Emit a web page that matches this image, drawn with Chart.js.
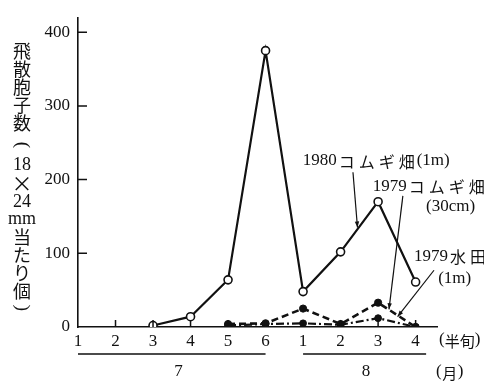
<!DOCTYPE html>
<html>
<head>
<meta charset="utf-8">
<script src="https://cdn.jsdelivr.net/npm/chart.js@4/dist/chart.umd.min.js"></script>
<style>
  html, body { margin: 0; padding: 0; background: #fff; }
  #wrap { width: 484px; height: 382px; position: relative; }
</style>
</head>
<body>
<div id="wrap"><canvas id="c" width="484" height="382"></canvas></div>
<script>
// ---- data ----
const halfMonthPositions = [1, 2, 3, 4, 5, 6, 7, 8, 9, 10];
const halfMonthLabels = ['1', '2', '3', '4', '5', '6', '1', '2', '3', '4'];
const yTickValues = [0, 100, 200, 300, 400];
const wheat1980_1m = [null, null, 2, 14, 64, 375, 48, 102, 170, 61];
const wheat1979_30cm = [null, null, null, null, 4, 5, 25, 4, 33, 0];
const paddy1979_1m = [null, null, null, null, 2, 4, 5, 3, 12, 0];
const seriesNames = ['1980コムギ畑(1m)', '1979コムギ畑(30cm)', '1979水田(1m)'];
const months = ['7', '8'];
const yAxisTitle = ['飛', '散', '胞', '子', '数', '(', '18', '×', '24', 'mm', '当', 'た', 'り', '個', ')'];

const toXY = arr => halfMonthPositions.map((x, i) => ({ x: x, y: arr[i] }));

const SERIF = "'Liberation Serif', 'DejaVu Serif', 'Noto Sans CJK JP', serif";
const CJK = "'Noto Sans CJK JP', sans-serif";
const INK = '#111';

function drawMixed(ctx, text, x, y, size, cjkSize, cjkAdvance) {
  // draws text left-aligned at x, vertically centred at y
  ctx.textBaseline = 'middle';
  ctx.textAlign = 'left';
  let cx = x;
  for (const ch of text) {
    const isCJK = /[\u3000-\u9fff\uff00-\uffef]/.test(ch);
    if (isCJK) {
      ctx.font = cjkSize + 'px ' + CJK;
      const w = ctx.measureText(ch).width;
      ctx.fillText(ch, cx + (cjkAdvance - w) / 2, y + 1);
      cx += cjkAdvance;
    } else {
      ctx.font = size + 'px ' + SERIF;
      ctx.fillText(ch, cx, y);
      cx += ctx.measureText(ch).width;
    }
  }
}

function arrow(ctx, x1, y1, x2, y2) {
  ctx.beginPath();
  ctx.moveTo(x1, y1);
  ctx.lineTo(x2, y2);
  ctx.stroke();
  const a = Math.atan2(y2 - y1, x2 - x1);
  const L = 6, W = 2.2;
  ctx.beginPath();
  ctx.moveTo(x2, y2);
  ctx.lineTo(x2 - L * Math.cos(a) + W * Math.sin(a), y2 - L * Math.sin(a) - W * Math.cos(a));
  ctx.lineTo(x2 - L * Math.cos(a) - W * Math.sin(a), y2 - L * Math.sin(a) + W * Math.cos(a));
  ctx.closePath();
  ctx.fill();
}

// annotation anchors in data coordinates
const annotations = [
  { text: seriesNames[0], tx: 6.99, ty: 226, from: [8.33, 210], to: [8.45, 135] },
  { text: '1979コムギ畑', text2: '(30cm)', tx: 8.86, ty: 191, t2x: 10.28, t2y: 163, from: [9.66, 178], to: [9.29, 24] },
  { text: '1979水田', text2: '(1m)', tx: 9.96, ty: 96, t2x: 10.6, t2y: 66, from: [10.49, 77], to: [9.52, 14] }
];

const decor = {
  id: 'decor',
  afterDraw(chart) {
    const ctx = chart.ctx;
    const xs = chart.scales.x, ys = chart.scales.y;
    const X = v => xs.getPixelForValue(v), Y = v => ys.getPixelForValue(v);
    const bottom = ys.getPixelForValue(0);
    ctx.save();
    ctx.strokeStyle = INK;
    ctx.fillStyle = INK;
    ctx.lineWidth = 1.5;
    // inward tick marks
    ctx.beginPath();
    for (const v of yTickValues) {
      if (v === 0) continue;
      ctx.moveTo(X(1), Y(v));
      ctx.lineTo(X(1) + 9, Y(v));
    }
    for (const p of halfMonthPositions) {
      if (p === 1) continue;
      ctx.moveTo(X(p), bottom);
      ctx.lineTo(X(p), bottom - 7);
    }
    ctx.stroke();

    // month bars and labels
    const lineY = 354, labY = 372;
    ctx.lineWidth = 1.6;
    ctx.beginPath();
    ctx.moveTo(X(1), lineY); ctx.lineTo(X(6), lineY);
    ctx.moveTo(X(7), lineY); ctx.lineTo(X(10.28), lineY);
    ctx.stroke();
    ctx.font = '17px ' + SERIF;
    ctx.textAlign = 'center';
    ctx.textBaseline = 'middle';
    ctx.fillText(months[0], X(3.68), labY);
    ctx.fillText(months[1], X(8.68), labY);
    drawMixed(ctx, '(半旬)', 439, 340, 17, 15, 15);
    drawMixed(ctx, '(月)', 436, labY, 17, 15, 16);

    // y axis title (vertical)
    const ty = [50, 68, 86, 104, 122, 145, 165, 183, 202, 219, 236, 254, 272, 290, 308];
    ctx.textAlign = 'center';
    ctx.textBaseline = 'middle';
    yAxisTitle.forEach((s, i) => {
      const cjk = /[\u3000-\u9fff]/.test(s);
      if (s === '(' || s === ')') {
        ctx.save();
        ctx.font = '19px ' + SERIF;
        ctx.translate(22, ty[i]);
        ctx.rotate(Math.PI / 2);
        ctx.fillText(s, 0, 0);
        ctx.restore();
        return;
      }
      if (s === '×') ctx.font = '21px ' + CJK;
      else ctx.font = cjk ? '18px ' + CJK : '18px ' + SERIF;
      ctx.fillText(s, 22, ty[i] + (cjk ? 1 : 0));
    });

    // annotations
    ctx.lineWidth = 1.2;
    for (const a of annotations) {
      drawMixed(ctx, a.text, X(a.tx), Y(a.ty), 17, 16, 20);
      if (a.text2) drawMixed(ctx, a.text2, X(a.t2x), Y(a.t2y), 17, 16, 20);
      arrow(ctx, X(a.from[0]), Y(a.from[1]), X(a.to[0]), Y(a.to[1]));
    }
    ctx.restore();
  }
};

new Chart(document.getElementById('c'), {
  type: 'line',
  data: {
    datasets: [
      {
        label: seriesNames[0],
        data: toXY(wheat1980_1m),
        borderColor: INK, borderWidth: 2.2,
        pointStyle: 'circle', pointRadius: 4, pointBorderWidth: 1.6,
        pointBackgroundColor: '#fff', pointBorderColor: INK,
        tension: 0, spanGaps: false, order: 1
      },
      {
        label: seriesNames[1],
        data: toXY(wheat1979_30cm),
        borderColor: INK, borderWidth: 2.6, borderDash: [7, 4],
        pointRadius: 3.6, pointBorderWidth: 1,
        pointBackgroundColor: INK, pointBorderColor: INK,
        tension: 0, order: 2
      },
      {
        label: seriesNames[2],
        data: toXY(paddy1979_1m),
        borderColor: INK, borderWidth: 2.2, borderDash: [8, 3, 2, 3],
        pointRadius: 3.4, pointBorderWidth: 1,
        pointBackgroundColor: INK, pointBorderColor: INK,
        tension: 0, order: 3
      }
    ]
  },
  options: {
    responsive: false,
    animation: false,
    devicePixelRatio: 1,
    layout: { padding: { top: 5, right: 47, left: 0, bottom: 0 } },
    plugins: { legend: { display: false }, tooltip: { enabled: false } },
    scales: {
      x: {
        type: 'linear',
        min: 1, max: 10.57,
        afterBuildTicks: s => { s.ticks = halfMonthPositions.map(v => ({ value: v })); },
        afterFit: s => { s.height = 55; },
        grid: { display: false, drawTicks: false, tickLength: 0 },
        border: { display: true, color: INK, width: 1.6 },
        ticks: {
          autoSkip: false, maxRotation: 0, padding: 4,
          color: INK, font: { family: SERIF, size: 17 },
          callback: v => halfMonthLabels[halfMonthPositions.indexOf(v)] ?? ''
        }
      },
      y: {
        min: 0, max: 419,
        afterBuildTicks: s => { s.ticks = yTickValues.map(v => ({ value: v })); },
        afterFit: s => { s.width = 78; },
        grid: { display: false, drawTicks: false, tickLength: 0 },
        border: { display: true, color: INK, width: 1.6 },
        ticks: {
          padding: 8, color: INK, font: { family: SERIF, size: 17 },
          callback: v => String(v)
        }
      }
    }
  },
  plugins: [decor]
});
</script>
</body>
</html>
